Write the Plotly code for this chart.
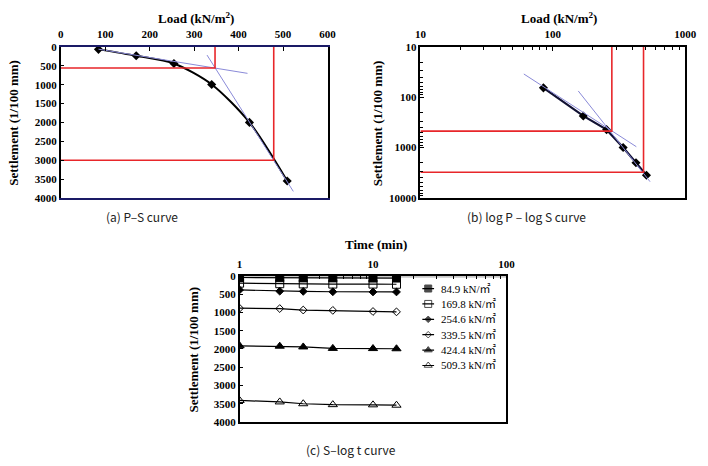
import plotly.graph_objects as go

# ---------------- data ----------------
loads = [84.9, 169.8, 254.6, 339.5, 424.4, 509.3]
settlement = [65, 235, 440, 995, 2000, 3550]

# (a) P-S construction lines
ps_tangent1_x = [85, 420]
ps_tangent1_y = [60, 700]
ps_tangent2_x = [329, 523]
ps_tangent2_y = [216, 3827]
ps_yield_load, ps_yield_settle = 347, 560
ps_ult_load, ps_ult_settle = 479, 3000

# (b) logP-logS construction lines
log_tangent1_x = [60.4, 427]
log_tangent1_y = [34.5, 961]
log_tangent2_x = [155.6, 542]
log_tangent2_y = [75, 4753]
log_yield_load, log_yield_settle = 279, 470
log_ult_load, log_ult_settle = 484, 3080
log_y_ticks = [10, 100, 1000, 10000]
log_y_labels = ["10", "100", "1000", "10000"]
log_x_ticks = [10, 100, 1000]
log_x_labels = ["10", "100", "1000"]

# (c) S-log t curves
times = [1, 2, 3, 5, 10, 15]
time_ticks = [1, 10, 100]
time_labels = ["1", "10", "100"]
series_names = ["84.9 kN/㎡", "169.8 kN/㎡", "254.6 kN/㎡",
                "339.5 kN/㎡", "424.4 kN/㎡", "509.3 kN/㎡"]
series_vals = [
    [45, 50, 55, 55, 60, 60],
    [200, 215, 220, 225, 225, 230],
    [385, 420, 425, 435, 440, 440],
    [885, 895, 935, 945, 975, 985],
    [1915, 1925, 1945, 1985, 1990, 1995],
    [3410, 3450, 3500, 3525, 3530, 3540],
]
series_symbols = ["square", "square-open", "diamond", "diamond-open",
                  "triangle-up", "triangle-up-open"]
series_sizes = [8, 8, 6, 6, 8, 8]

# ---------------- style ----------------
SERIF = "Liberation Serif"
RED = "#e8262a"
BLUE = "#8a8ad8"
tickfont = dict(family=SERIF, size=11, color="black", weight="bold")
titlefont = dict(family=SERIF, size=13, color="black", weight="bold")
capfont = dict(family="Noto Sans CJK KR, Noto Sans, sans-serif", size=12, color="#222")
legfont = dict(family="Liberation Serif, Noto Sans CJK KR, serif", size=11, color="black")

W, H = 708, 466

fig = go.Figure()

# ---------- panel (a) ----------
fig.add_trace(go.Scatter(x=loads, y=settlement, mode="lines+markers",
                         line=dict(color="black", width=2, shape="spline", smoothing=0.8),
                         marker=dict(symbol="diamond", size=7, color="black"),
                         xaxis="x", yaxis="y", showlegend=False))
fig.add_trace(go.Scatter(x=ps_tangent1_x, y=ps_tangent1_y, mode="lines",
                         line=dict(color=BLUE, width=1), xaxis="x", yaxis="y", showlegend=False))
fig.add_trace(go.Scatter(x=ps_tangent2_x, y=ps_tangent2_y, mode="lines",
                         line=dict(color=BLUE, width=1), xaxis="x", yaxis="y", showlegend=False))
for (px, py) in [(ps_yield_load, ps_yield_settle), (ps_ult_load, ps_ult_settle)]:
    fig.add_trace(go.Scatter(x=[0, px, px], y=[py, py, 0], mode="lines",
                             line=dict(color=RED, width=1.6), xaxis="x", yaxis="y",
                             showlegend=False))

# ---------- panel (b) ----------
fig.add_trace(go.Scatter(x=loads, y=settlement, mode="lines+markers",
                         line=dict(color="#111133", width=2.2),
                         marker=dict(symbol="diamond", size=7, color="black"),
                         xaxis="x2", yaxis="y2", showlegend=False))
fig.add_trace(go.Scatter(x=log_tangent1_x, y=log_tangent1_y, mode="lines",
                         line=dict(color=BLUE, width=1), xaxis="x2", yaxis="y2", showlegend=False))
fig.add_trace(go.Scatter(x=log_tangent2_x, y=log_tangent2_y, mode="lines",
                         line=dict(color=BLUE, width=1), xaxis="x2", yaxis="y2", showlegend=False))
for (px, py) in [(log_yield_load, log_yield_settle), (log_ult_load, log_ult_settle)]:
    fig.add_trace(go.Scatter(x=[10, px, px], y=[py, py, 10], mode="lines",
                             line=dict(color=RED, width=1.6), xaxis="x2", yaxis="y2",
                             showlegend=False))

# ---------- panel (c) ----------
fig.add_shape(type="rect", xref="x3", yref="y3", x0=1, x1=100, y0=0, y1=50,
              fillcolor="#c8c8c8", line=dict(width=0), layer="below")
for name, vals, sym, sz in zip(series_names, series_vals, series_symbols, series_sizes):
    fig.add_trace(go.Scatter(x=times, y=vals, mode="lines+markers", name=name,
                             line=dict(color="black", width=1.2),
                             marker=dict(symbol=sym, size=sz, color="black",
                                         line=dict(color="black", width=1)),
                             xaxis="x3", yaxis="y3", showlegend=False))

# ---------- compact legend for panel (c), drawn on a hidden helper axis ----------
# helper axis spans a pixel box; rows placed every ~15.8 px
LEG_X0, LEG_X1, LEG_Y0, LEG_Y1 = 425, 512, 282, 378
row_step = 15.8
row_first = 290
for i, (name, sym, sz) in enumerate(zip(series_names, series_symbols, series_sizes)):
    ry = row_first + i * row_step
    fig.add_trace(go.Scatter(x=[427, 433, 439], y=[ry, ry, ry], mode="lines+markers",
                             line=dict(color="black", width=1.2),
                             marker=dict(symbol=sym, size=[0, sz - 1, 0], color="black",
                                         line=dict(color="black", width=1)),
                             xaxis="x4", yaxis="y4", showlegend=False, hoverinfo="skip"))
    fig.add_annotation(xref="x4", yref="y4", x=444, y=ry, text=name, showarrow=False,
                       xanchor="left", yanchor="middle", font=legfont)

common_axis = dict(showgrid=False, zeroline=False, showline=True, linecolor="black",
                   linewidth=1.5, mirror=True, ticks="inside", ticklen=4,
                   tickcolor="black", tickfont=tickfont)
minor_log = dict(ticks="inside", ticklen=3, tickcolor="black", dtick="D1")

fig.update_layout(
    width=W, height=H, margin=dict(l=0, r=0, t=0, b=0),
    paper_bgcolor="white", plot_bgcolor="white",
    xaxis=dict(common_axis, domain=[57/W, 330/W], range=[0, 600], dtick=100,
               side="top", anchor="y", linecolor="#1a1a66", ticklabelstandoff=3),
    yaxis=dict(common_axis, domain=[1-197/H, 1-42/H], range=[4000, 0], dtick=500,
               anchor="x"),
    xaxis2=dict(common_axis, domain=[425/W, 696/W], type="log", range=[1, 3],
                tickvals=log_x_ticks, ticktext=log_x_labels, side="top", anchor="y2",
                minor=minor_log, ticklabelstandoff=3),
    yaxis2=dict(common_axis, domain=[1-197/H, 1-42/H], type="log", range=[4, 1],
                tickvals=log_y_ticks, ticktext=log_y_labels, anchor="x2",
                minor=minor_log),
    xaxis3=dict(common_axis, domain=[240/W, 513/W], type="log", range=[0, 2],
                tickvals=time_ticks, ticktext=time_labels, side="top", anchor="y3",
                minor=minor_log, ticklabelstandoff=2),
    yaxis3=dict(common_axis, domain=[1-427/H, 1-277/H], range=[4000, 0], dtick=500,
                anchor="x3"),
    xaxis4=dict(domain=[LEG_X0/W, LEG_X1/W], range=[LEG_X0, LEG_X1], visible=False,
                anchor="y4", fixedrange=True),
    yaxis4=dict(domain=[1-LEG_Y1/H, 1-LEG_Y0/H], range=[LEG_Y1, LEG_Y0], visible=False,
                anchor="x4", fixedrange=True),
    showlegend=False,
)

annos = [
    dict(text="Load (kN/m<sup>2</sup>)", x=195/W, y=1-12/H, font=titlefont),
    dict(text="Settlement (1/100 mm)", x=9/W, y=1-120/H, font=titlefont, textangle=-90),
    dict(text="Load (kN/m<sup>2</sup>)", x=567/W, y=1-12/H, font=titlefont),
    dict(text="Settlement (1/100 mm)", x=382/W, y=1-120/H, font=titlefont, textangle=-90),
    dict(text="Time (min)", x=380/W, y=1-245/H, font=titlefont),
    dict(text="Settlement (1/100 mm)", x=193/W, y=1-353/H, font=titlefont, textangle=-90),
    dict(text="(a) P–S curve", x=140/W, y=1-216/H, font=capfont),
    dict(text="(b) log P – log S curve", x=534/W, y=1-216/H, font=capfont),
    dict(text="(c) S–log t curve", x=354/W, y=1-455/H, font=capfont),
]
for a in annos:
    fig.add_annotation(xref="paper", yref="paper", showarrow=False,
                       xanchor="center", yanchor="middle", **a)

fig.write_html("out.html")
